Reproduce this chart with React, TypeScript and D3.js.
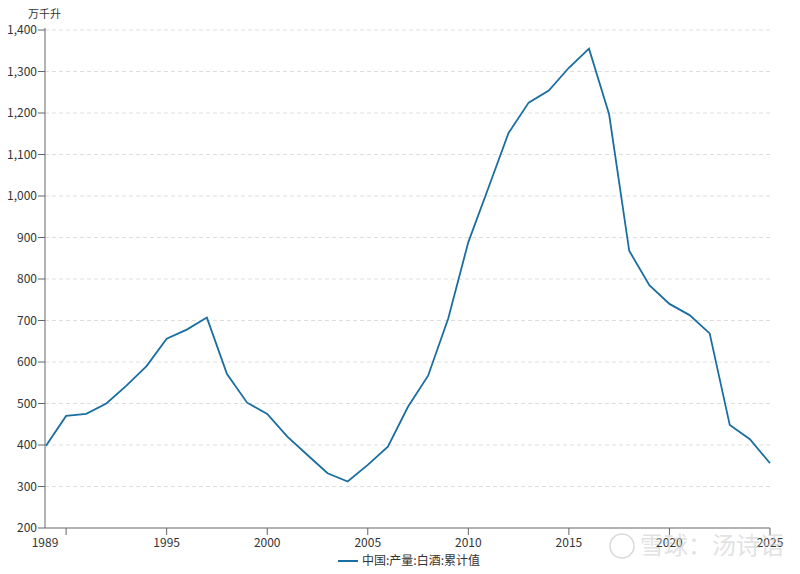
import React from "react";
import * as d3 from "d3";

const years = [1989,1990,1991,1992,1993,1994,1995,1996,1997,1998,1999,2000,2001,2002,2003,2004,2005,2006,2007,2008,2009,2010,2011,2012,2013,2014,2015,2016,2017,2018,2019,2020,2021,2022,2023,2024,2025];
const values = [398,470,475,500,543,590,656,678,707,571,502,475,420,376,332,312,352,396,492,567,705,889,1020,1152,1225,1254,1309,1355,1197,868,785,740,713,669,448,414,356];
const yTicks = [200,300,400,500,600,700,800,900,1000,1100,1200,1300,1400];
const xTickYears = [1990,1995,2000,2005,2010,2015,2020,2025];
const xLabelYears = [1989,1995,2000,2005,2010,2015,2020,2025];
const seriesName = "中国:产量:白酒:累计值";
const unitLabel = "万千升";
const watermark = "雪球：汤诗语";

const W = 800, H = 574;
const m = { left: 45, right: 30, top: 30, bottom: 46 };
const FONT = "'Noto Sans CJK SC', 'Noto Sans', sans-serif";

export default function App() {
  const x = d3.scaleLinear().domain([1989, 2025]).range([m.left + 1, W - m.right]);
  const y = d3.scaleLinear().domain([200, 1400]).range([H - m.bottom, m.top]);
  const line = d3.line<number>().x((_, i) => x(years[i])).y((v) => y(v));
  const fmt = d3.format(",");
  const axisColor = "#666";
  return (
    <svg width={W} height={H} style={{ position: "absolute", left: 0, top: 0, background: "#fff" }} fontFamily={FONT}>
      <text x={28} y={18} fontSize={11} fill="#333">{unitLabel}</text>
      {yTicks.filter((t) => t !== 200).map((t) => (
        <line key={"g" + t} x1={m.left} x2={W - m.right} y1={y(t)} y2={y(t)} stroke="#ddd" strokeDasharray="4,3" />
      ))}
      {yTicks.map((t) => (
        <g key={"y" + t}>
          <line x1={m.left - 7} x2={m.left} y1={y(t)} y2={y(t)} stroke={axisColor} />
          <text x={m.left - 8} y={y(t)} dy="0.35em" textAnchor="end" fontSize={12} fill="#333">{fmt(t)}</text>
        </g>
      ))}
      <line x1={m.left} x2={m.left} y1={m.top - 2} y2={H - m.bottom} stroke={axisColor} />
      <line x1={m.left} x2={W - m.right} y1={H - m.bottom} y2={H - m.bottom} stroke={axisColor} />
      {xTickYears.map((t) => (
        <line key={"xt" + t} x1={x(t)} x2={x(t)} y1={H - m.bottom} y2={H - m.bottom + 7} stroke={axisColor} />
      ))}
      {xLabelYears.map((t) => (
        <text key={"xl" + t} x={t === 1989 ? m.left : x(t)} y={H - m.bottom + 19} textAnchor="middle" fontSize={12} fill="#333">{t}</text>
      ))}
      <path d={line(values) || ""} fill="none" stroke="#1a6ea0" strokeWidth={1.8} />
      <line x1={338} x2={358} y1={561} y2={561} stroke="#1a6ea0" strokeWidth={2} />
      <text x={362} y={561} dy="0.35em" fontSize={12} fill="#333">{seriesName}</text>
      <g opacity={0.55}>
        <circle cx={622} cy={546} r={12} fill="none" stroke="#bbb" strokeWidth={1.5} />
        <text x={640} y={546} dy="0.35em" fontSize={24} fill="#ccc">{watermark}</text>
      </g>
    </svg>
  );
}
